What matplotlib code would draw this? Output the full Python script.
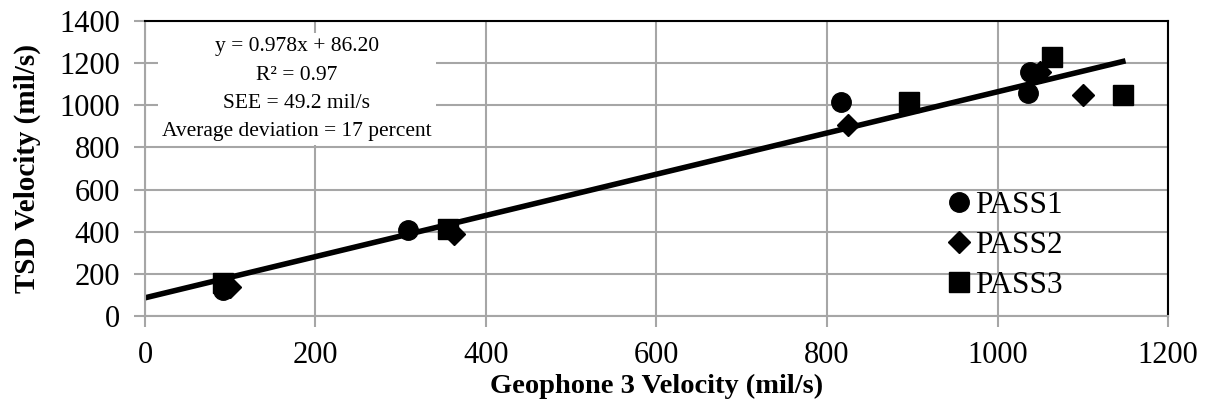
import numpy as np
import matplotlib.pyplot as plt

# Deflection velocities, geophone 3 vs TSD (mil/s)
pass1_x = [92, 308, 816, 1036, 1038]
pass1_y = [122, 408, 1014, 1057, 1157]
pass2_x = [100, 362, 825, 1050, 1100]
pass2_y = [140, 388, 905, 1160, 1049]
pass3_x = [92, 355, 896, 1064, 1147]
pass3_y = [158, 415, 1016, 1229, 1049]

slope = 0.978
intercept = 86.20
fit_x = [0, 1147]

plt.rcParams['font.family'] = ['Liberation Serif', 'DejaVu Serif']

fig = plt.figure(figsize=(12.1, 4.17), dpi=100)
ax = fig.add_axes([0.1198, 0.2422, 0.8455, 0.7074])

grid_c = '#a6a6a6'
ax.set_xlim(0, 1200)
ax.set_ylim(0, 1400)
ax.set_xticks(np.arange(0, 1201, 200))
ax.set_yticks(np.arange(0, 1401, 200))
ax.grid(True, color=grid_c, linewidth=1.5)
ax.set_axisbelow(True)

for side in ['left', 'bottom']:
    ax.spines[side].set_color(grid_c)
    ax.spines[side].set_linewidth(1.5)
for side in ['top', 'right']:
    ax.spines[side].set_color('black')
    ax.spines[side].set_linewidth(1.5)
ax.tick_params(direction='out', length=8, width=1.5, color=grid_c,
               labelsize=22, pad=10)

fx = np.array(fit_x)
ax.plot(fx, slope * fx + intercept, color='black', lw=4, zorder=2)

ax.plot(pass1_x, pass1_y, 'o', color='black', ms=14, label='PASS1', zorder=3)
ax.plot(pass2_x, pass2_y, 'D', color='black', ms=11, label='PASS2', zorder=3)
ax.plot(pass3_x, pass3_y, 's', color='black', ms=15, label='PASS3', zorder=3)

ax.text(178, 1322, 'y = 0.978x + 86.20\nR² = 0.97\nSEE = 49.2 mil/s\nAverage deviation = 17 percent',
        ha='center', va='top', fontsize=15.5, linespacing=1.65, zorder=2.2,
        bbox=dict(facecolor='white', edgecolor='none', pad=3))

leg = ax.legend(loc='lower right', bbox_to_anchor=(0.915, -0.01), frameon=False,
                fontsize=22.5, handletextpad=0.0, labelspacing=0.35,
                handlelength=1.0, borderaxespad=0.2)

ax.set_xlabel('Geophone 3 Velocity (mil/s)', fontsize=20.5, fontweight='bold', labelpad=3)
ax.set_ylabel('TSD Velocity (mil/s)', fontsize=21, fontweight='bold', labelpad=13)

fig.savefig('out.png', dpi=100)
